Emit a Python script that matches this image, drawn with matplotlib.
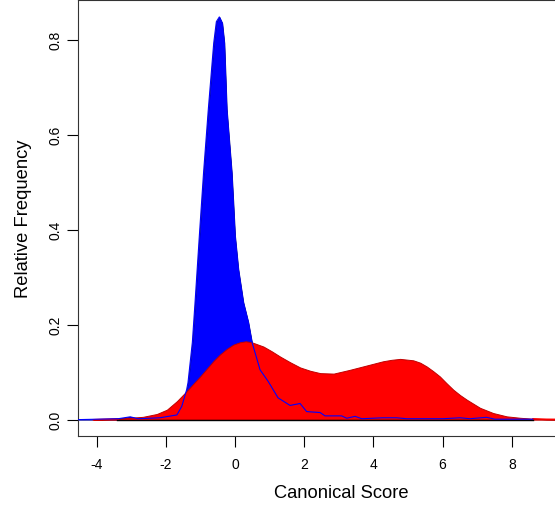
import matplotlib
matplotlib.use("Agg")
import matplotlib.pyplot as plt

plt.rcParams['font.family'] = ['Liberation Sans', 'DejaVu Sans']

# group 1 (blue) density
blue_x = [-4.6, -3.38, -3.03, -2.80, -2.17, -1.68, -1.54, -1.40, -1.36, -1.234,
          -1.156, -1.032, -0.91, -0.772, -0.616, -0.54, -0.454, -0.37, -0.309,
          -0.24, -0.095, -0.05, 0.0, 0.095, 0.24, 0.384, 0.483, 0.723, 0.954, 1.243, 1.59,
          1.88, 2.07, 2.46, 2.60, 3.08, 3.23, 3.47, 3.66, 4.28, 4.67, 4.96,
          6.01, 6.50, 6.79, 7.27, 7.51, 8.61]
blue_y = [0.0, 0.002, 0.006, 0.002, 0.004, 0.010, 0.028, 0.063, 0.078, 0.163,
          0.247, 0.387, 0.52, 0.654, 0.793, 0.838, 0.848, 0.835, 0.793,
          0.654, 0.52, 0.458, 0.387, 0.317, 0.247, 0.205, 0.165, 0.105, 0.081, 0.046, 0.030,
          0.034, 0.017, 0.015, 0.008, 0.008, 0.003, 0.007, 0.002, 0.004, 0.004, 0.002,
          0.002, 0.004, 0.002, 0.005, 0.001, 0.001]

# group 2 (red) density
red_x = [-4.1, -3.38, -2.66, -2.26, -1.97, -1.68, -1.40, -1.20, -1.01, -0.82,
         -0.63, -0.44, -0.24, -0.05, 0.14, 0.31, 0.48, 0.82, 1.06, 1.30, 1.59,
         1.88, 2.17, 2.46, 2.85, 3.32, 3.80, 4.28, 4.52, 4.77, 5.15, 5.35, 5.54,
         5.73, 5.92, 6.11, 6.31, 6.50, 6.70, 7.08, 7.46, 7.85, 8.24, 8.61, 9.0, 10.7]
red_y = [0.0, 0.002, 0.006, 0.012, 0.021, 0.039, 0.060, 0.076, 0.091, 0.107,
         0.123, 0.137, 0.149, 0.158, 0.163, 0.165, 0.163, 0.154, 0.144, 0.133, 0.121,
         0.110, 0.103, 0.098, 0.097, 0.105, 0.114, 0.123, 0.126, 0.128, 0.125, 0.120, 0.112,
         0.102, 0.091, 0.077, 0.063, 0.052, 0.042, 0.025, 0.014, 0.007, 0.004, 0.002, 0.001, 0.0]

x_ticks = [-4, -2, 0, 2, 4, 6, 8]
y_ticks = [0.0, 0.2, 0.4, 0.6, 0.8]

fig = plt.figure(figsize=(5.55, 5.06), dpi=100)
ax = fig.add_axes([0.1405, 0.137, 0.95, 0.861])

ax.fill_between(blue_x, 0, blue_y, facecolor='#0000ff', edgecolor='#00008b', linewidth=0.6, zorder=1)
ax.fill_between(red_x, 0, red_y, facecolor='#ff0000', edgecolor='#c00000', linewidth=0.7, zorder=2)
ax.plot([-3.4, 8.6], [0, 0], color='black', linewidth=1.0, zorder=3)
ax.plot(blue_x, blue_y, color='#0000ff', linewidth=0.8, zorder=4)
ax.plot(red_x[:2], red_y[:2], color='#ff0000', linewidth=1.0, zorder=3.5)
ax.plot(red_x[-3:], red_y[-3:], color='#ff0000', linewidth=1.0, zorder=3.5)

ax.set_xlim(-4.54, 10.70)
ax.set_ylim(-0.0337, 0.8836)
ax.set_xticks(x_ticks)
ax.set_xticklabels([str(t) for t in x_ticks], fontsize=10)
ax.set_yticks(y_ticks)
ax.set_yticklabels(['%.1f' % t for t in y_ticks], fontsize=10, rotation=90, va='center')
ax.tick_params(length=8, width=0.8)
ax.tick_params(axis='x', pad=7.5)
ax.tick_params(axis='y', pad=3)
for s in ax.spines.values():
    s.set_linewidth(0.8)
    s.set_color('#333333')

ax.set_xlabel('Canonical Score', fontsize=13.2, labelpad=9)
ax.set_ylabel('Relative Frequency', fontsize=13.2, labelpad=12)

fig.savefig('out.png', dpi=100)
